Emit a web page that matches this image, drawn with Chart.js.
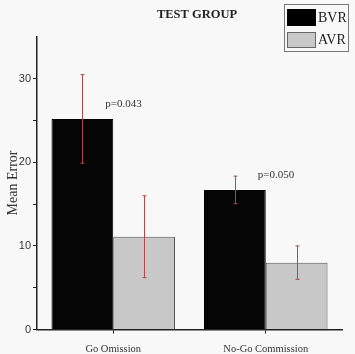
<!DOCTYPE html>
<html><head><meta charset="utf-8">
<script src="https://cdn.jsdelivr.net/npm/chart.js@4"></script>
<style>html,body{margin:0;padding:0;background:#f8f8f8;}#w{width:355px;height:354px;}</style>
</head><body><div id="w"><canvas id="c" width="355" height="354"></canvas></div>
<script>
const categories = ["Go Omission", "No-Go Commission"];
const bvr = [25.2, 16.7];
const bvrErr = [5.3, 1.65];
const avr = [11.1, 8.0];
const avrErr = [4.9, 2.0];
const pLabels = ["p=0.043", "p=0.050"];
const yTicks = [0, 10, 20, 30];

const serif = "'Liberation Serif','Times New Roman',serif";
const sans = "'Liberation Sans',Arial,sans-serif";

const extras = {
  id: 'extras',
  afterDatasetsDraw(chart) {
    const ctx = chart.ctx, y = chart.scales.y;
    const errs = [bvrErr, avrErr];
    ctx.save();
    ctx.strokeStyle = '#b04848';
    ctx.lineWidth = 1;
    chart.data.datasets.forEach((ds, di) => {
      chart.getDatasetMeta(di).data.forEach((bar, i) => {
        const v = ds.data[i], e = errs[di][i];
        const x = Math.round(bar.x) + 0.5;
        const t = y.getPixelForValue(v + e), b = y.getPixelForValue(v - e);
        ctx.beginPath();
        ctx.moveTo(x, t); ctx.lineTo(x, b);
        ctx.moveTo(x - 2, t); ctx.lineTo(x + 2, t);
        ctx.moveTo(x - 2, b); ctx.lineTo(x + 2, b);
        ctx.stroke();
      });
    });
    ctx.fillStyle = '#333';
    ctx.font = '11px ' + serif;
    ctx.textBaseline = 'middle';
    ctx.textAlign = 'left';
    chart.getDatasetMeta(0).data.forEach((bar, i) => {
      ctx.fillText(pLabels[i], bar.x + 23, bar.y - 15);
    });
    ctx.restore();
  },
  afterDraw(chart) {
    const ctx = chart.ctx;
    ctx.save();
    ctx.fillStyle = '#222';
    ctx.font = 'bold 12.5px ' + serif;
    ctx.textAlign = 'center';
    ctx.textBaseline = 'middle';
    ctx.fillText('TEST GROUP', 197, 15);
    ctx.save();
    ctx.translate(13, 183);
    ctx.rotate(-Math.PI / 2);
    ctx.font = '14px ' + serif;
    ctx.fillStyle = '#333';
    ctx.fillText('Mean Error', 0, 0);
    ctx.restore();
    ctx.fillStyle = '#f8f8f8';
    ctx.fillRect(284.5, 4.5, 64, 47);
    ctx.strokeStyle = '#777';
    ctx.lineWidth = 1;
    ctx.strokeRect(284.5, 4.5, 64, 47);
    ctx.fillStyle = '#000';
    ctx.fillRect(287, 9, 29, 17);
    ctx.fillStyle = '#c8c8c8';
    ctx.fillRect(287, 32, 29, 16);
    ctx.strokeStyle = '#666';
    ctx.strokeRect(287.5, 32.5, 28, 15);
    ctx.fillStyle = '#222';
    ctx.font = '14px ' + serif;
    ctx.textAlign = 'left';
    ctx.fillText(chart.data.datasets[0].label, 318, 18);
    ctx.fillText(chart.data.datasets[1].label, 318, 40);
    ctx.restore();
  }
};

new Chart(document.getElementById('c'), {
  type: 'bar',
  data: {
    labels: categories,
    datasets: [
      { label: 'BVR', data: bvr, backgroundColor: '#050505', borderColor: '#000', borderWidth: 1 },
      { label: 'AVR', data: avr, backgroundColor: '#c8c8c8', borderColor: '#555', borderWidth: 1 }
    ]
  },
  options: {
    responsive: false,
    animation: false,
    devicePixelRatio: 1,
    categoryPercentage: 0.81,
    barPercentage: 1.0,
    layout: { padding: { top: 37, right: 13, left: 0, bottom: 0 } },
    plugins: { legend: { display: false }, title: { display: false }, tooltip: { enabled: false } },
    scales: {
      x: {
        offset: true,
        grid: { offset: false, drawOnChartArea: false, tickLength: 4, color: '#222' },
        border: { color: '#222', width: 1.5 },
        ticks: { color: '#333', font: { family: serif, size: 10.5 }, padding: 9 },
        afterFit(s) { s.height = 24.5; }
      },
      y: {
        min: 0, max: 35,
        afterBuildTicks(s) { s.ticks = [0,5,10,15,20,25,30].map(v => ({ value: v })); },
        grid: { drawOnChartArea: false, tickLength: 4, color: '#222' },
        border: { color: '#222', width: 1.5 },
        ticks: { color: '#333', font: { family: sans, size: 11 }, padding: 2,
          callback: v => yTicks.includes(v) ? String(v) : '' },
        afterFit(s) { s.width = 37; }
      }
    }
  },
  plugins: [extras]
});
</script>
</body></html>
